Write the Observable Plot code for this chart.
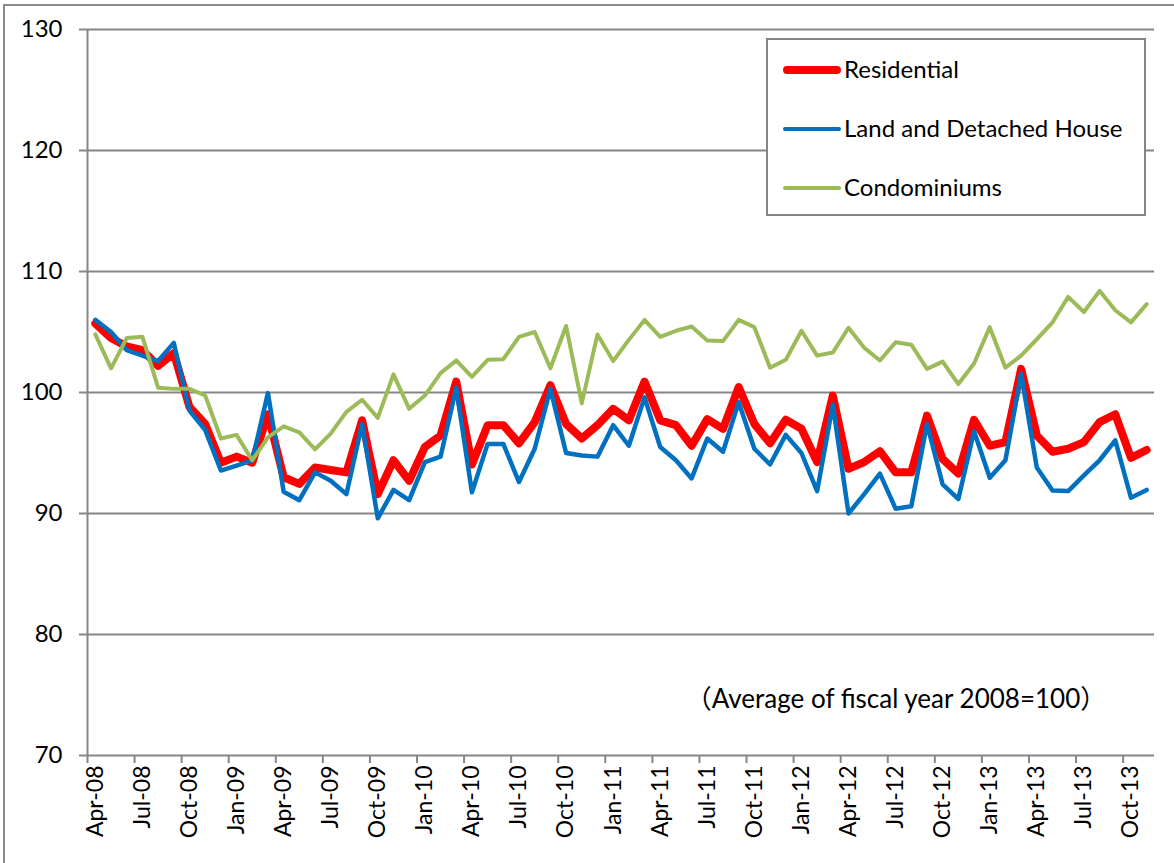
<!DOCTYPE html>
<html>
<head>
<meta charset="utf-8">
<script src="https://cdn.jsdelivr.net/npm/d3@7"></script>
<script src="https://cdn.jsdelivr.net/npm/@observablehq/plot@0.6"></script>
<style>
  html, body { margin: 0; padding: 0; background: #fff; overflow: hidden; }
  #wrap { position: relative; width: 1174px; height: 863px; font-family: Lato, "Noto Sans", sans-serif; }
  #outer { position: absolute; left: 3px; top: 4px; width: 1300px; height: 1000px; border-left: 2px solid #8b8b8b; border-top: 2px solid #8b8b8b; box-sizing: border-box; }
  #legend { position: absolute; left: 766px; top: 38px; width: 380px; height: 178px; border: 2px solid #868686; background: #fff; box-sizing: border-box; }
  .item { position: absolute; left: 15px; font-size: 24px; line-height: 24px; color: #000; }
  .sw { position: absolute; left: 0; width: 58px; border-radius: 4px; }
  .lab { position: absolute; left: 61px; top: -13px; white-space: nowrap; }
  #note { position: absolute; left: 896px; top: 682px; transform: translateX(-50%); white-space: nowrap; font-size: 26px; line-height: 30px; color: #000; font-family: Lato, "Noto Sans CJK JP", sans-serif; }
  .cjk { font-family: "Noto Sans CJK JP", sans-serif; }
</style>
</head>
<body>
<div id="wrap">
  <div id="outer"></div>
  <div id="chart"></div>
  <div id="legend"></div>
  <div id="note"><span class="cjk">（</span>Average of fiscal year 2008=100<span class="cjk">）</span></div>
</div>
<script>
// Months Apr-2008 .. Nov-2013 (68 monthly observations)
const months = [
  "2008-04","2008-05","2008-06","2008-07","2008-08","2008-09","2008-10","2008-11","2008-12",
  "2009-01","2009-02","2009-03","2009-04","2009-05","2009-06","2009-07","2009-08","2009-09","2009-10","2009-11","2009-12",
  "2010-01","2010-02","2010-03","2010-04","2010-05","2010-06","2010-07","2010-08","2010-09","2010-10","2010-11","2010-12",
  "2011-01","2011-02","2011-03","2011-04","2011-05","2011-06","2011-07","2011-08","2011-09","2011-10","2011-11","2011-12",
  "2012-01","2012-02","2012-03","2012-04","2012-05","2012-06","2012-07","2012-08","2012-09","2012-10","2012-11","2012-12",
  "2013-01","2013-02","2013-03","2013-04","2013-05","2013-06","2013-07","2013-08","2013-09","2013-10","2013-11"
];

const residential = [
  105.7,104.5,103.8,103.5,102.2,103.25,98.8,97.4,94.2,
  94.7,94.2,98.2,93.0,92.45,93.8,93.6,93.4,97.7,91.6,94.4,92.7,
  95.5,96.45,100.9,94.05,97.3,97.3,95.8,97.55,100.6,97.4,96.2,97.3,
  98.65,97.7,100.9,97.7,97.3,95.6,97.8,97.0,100.45,97.4,95.8,97.75,
  97.0,94.25,99.75,93.7,94.25,95.15,93.4,93.4,98.1,94.5,93.3,97.75,
  95.6,95.9,101.95,96.45,95.1,95.35,95.9,97.55,98.2,94.6,95.25
];

const landDetached = [
  106.0,105.0,103.5,103.05,102.6,104.1,98.5,96.9,93.55,
  93.95,94.4,99.95,91.8,91.1,93.4,92.7,91.6,97.4,89.6,91.95,91.1,
  94.25,94.7,100.4,91.75,95.75,95.75,92.6,95.35,100.3,95.0,94.8,94.7,
  97.3,95.6,99.6,95.5,94.4,92.9,96.2,95.1,99.2,95.35,94.05,96.5,
  95.0,91.85,99.0,90.0,91.6,93.3,90.4,90.6,97.4,92.4,91.2,96.8,
  92.95,94.4,101.55,93.8,91.9,91.85,93.15,94.4,96.05,91.3,91.95
];

const condominiums = [
  104.8,102.0,104.5,104.6,100.4,100.3,100.3,99.75,96.2,
  96.5,94.4,96.3,97.2,96.7,95.3,96.6,98.4,99.4,97.9,101.5,98.65,
  99.75,101.6,102.65,101.3,102.7,102.75,104.6,105.0,102.0,105.5,99.1,104.8,
  102.6,104.35,106.0,104.6,105.1,105.45,104.3,104.25,106.0,105.4,102.05,102.7,
  105.1,103.05,103.3,105.35,103.7,102.65,104.15,103.95,101.95,102.55,100.7,102.4,
  105.4,102.05,103.05,104.4,105.8,107.9,106.65,108.4,106.8,105.8,107.3
];

// Category tick labels (every third month)
const tickLabels = [
  "Apr-08","Jul-08","Oct-08","Jan-09","Apr-09","Jul-09","Oct-09","Jan-10",
  "Apr-10","Jul-10","Oct-10","Jan-11","Apr-11","Jul-11","Oct-11","Jan-12",
  "Apr-12","Jul-12","Oct-12","Jan-13","Apr-13","Jul-13","Oct-13"
];
const yTicks = [70, 80, 90, 100, 110, 120, 130];

const seriesNames = ["Residential", "Land and Detached House", "Condominiums"];
const seriesColors = ["#FF0000", "#0070C0", "#9BBB59"];
const seriesWidths = [8, 4.5, 4];
const seriesValues = [residential, landDetached, condominiums];

const n = months.length;
const xDomain = [-0.5, n - 0.5];
const labelIdx = tickLabels.map((_, k) => k * 3);
const bounds = tickLabels.map((_, k) => k * 3 - 0.5);
const gridColor = "#868686";

const lineMarks = seriesValues.map((vals, s) =>
  Plot.lineY(vals, {
    x: (d, i) => i, y: d => d,
    stroke: seriesColors[s], strokeWidth: seriesWidths[s],
    strokeLinejoin: "round", strokeLinecap: "round"
  })
);

const chart = Plot.plot({
  width: 1174,
  height: 863,
  marginLeft: 87,
  marginRight: 20,
  marginTop: 29,
  marginBottom: 108,
  style: { fontFamily: "Lato, 'Noto Sans', sans-serif", fontSize: "24px", background: "transparent", color: "#000" },
  x: { type: "linear", domain: xDomain, axis: null },
  y: { domain: [70, 130], axis: null },
  marks: [
    Plot.ruleY(yTicks, { stroke: gridColor, strokeWidth: 2, insetLeft: -8 }),
    Plot.ruleX([xDomain[0]], { stroke: gridColor, strokeWidth: 2 }),
    Plot.axisY(yTicks, { tickSize: 0, tickPadding: 25, fontSize: 24, fill: "#000" }),
    Plot.axisX(bounds, { tickSize: 8, tickFormat: () => "", stroke: gridColor, strokeWidth: 2 }),
    Plot.axisX(labelIdx, { tickSize: 0, tickPadding: 10, tickRotate: -90, fontSize: 23, fill: "#000",
      tickFormat: d => tickLabels[Math.round(d / 3)] }),
    ...lineMarks
  ]
});
document.getElementById("chart").appendChild(chart);

// Legend inside the plot area
const legend = document.getElementById("legend");
const itemTops = [30, 89, 148];
seriesNames.forEach((name, s) => {
  const it = document.createElement("div");
  it.className = "item";
  it.style.top = itemTops[s] + "px";
  const sw = document.createElement("div");
  sw.className = "sw";
  sw.style.background = seriesColors[s];
  sw.style.height = seriesWidths[s] + "px";
  sw.style.top = (-seriesWidths[s] / 2) + "px";
  const lb = document.createElement("div");
  lb.className = "lab";
  lb.textContent = name;
  it.appendChild(sw);
  it.appendChild(lb);
  legend.appendChild(it);
});
</script>
</body>
</html>
